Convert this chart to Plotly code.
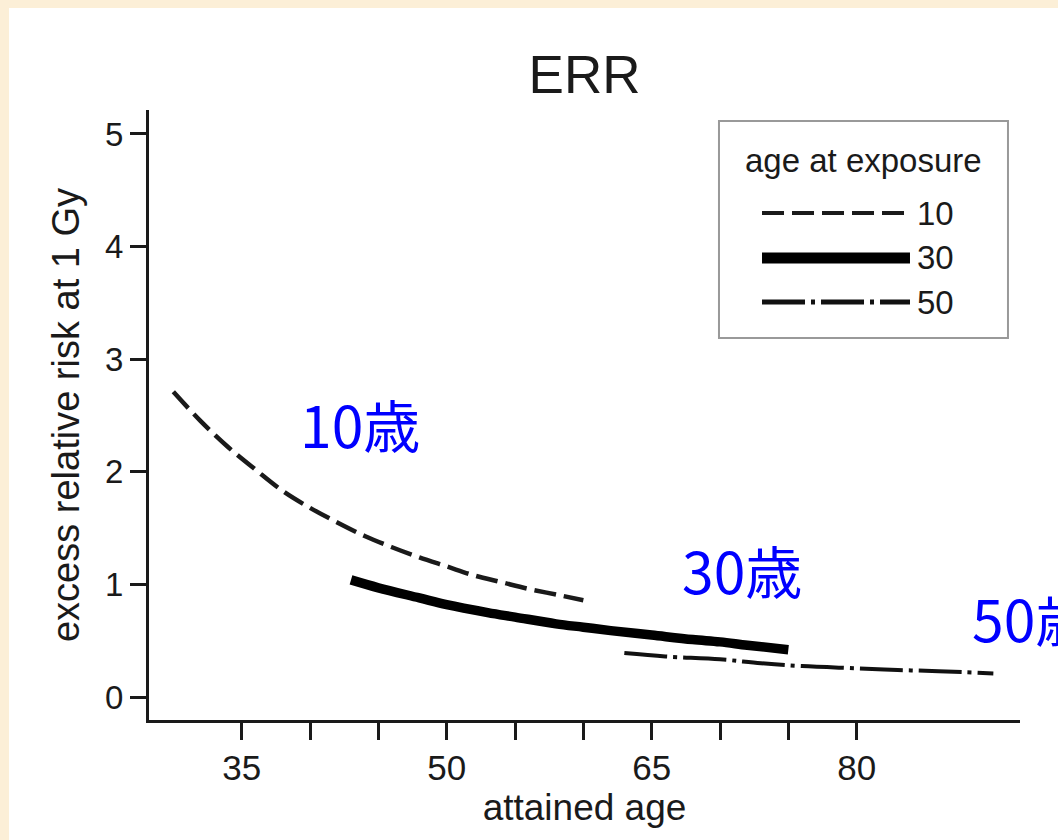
import plotly.graph_objects as go

# ---- data ----
age_10 = [30, 32, 34, 36, 38, 40, 42, 44, 46, 48, 50, 52, 54, 56, 58, 60]
err_10 = [2.71, 2.45, 2.22, 2.02, 1.83, 1.68, 1.55, 1.43, 1.33, 1.24, 1.16, 1.08, 1.02, 0.96, 0.91, 0.86]

age_30 = [43, 45, 48, 50, 53, 55, 58, 60, 62, 65, 68, 70, 72, 75]
err_30 = [1.04, 0.97, 0.88, 0.82, 0.75, 0.71, 0.65, 0.62, 0.59, 0.55, 0.51, 0.49, 0.46, 0.42]

age_50 = [63, 66, 70, 73, 76, 80, 83, 86, 90]
err_50 = [0.39, 0.36, 0.335, 0.30, 0.275, 0.255, 0.24, 0.23, 0.21]

x_tickvals = [35, 40, 45, 50, 55, 60, 65, 70, 75, 80]
x_ticktext = ["35", "", "", "50", "", "", "65", "", "", "80"]
y_tickvals = [0, 1, 2, 3, 4, 5]

series_names = ["10", "30", "50"]
legend_title = "age at exposure"
labels_text = ["10歳", "30歳", "50歳"]
labels_x = [39.1, 67.05, 88.3]
labels_y = [2.43, 1.14, 0.71]

FONT = "Liberation Sans, Arial, sans-serif"
CJK = "Noto Sans CJK JP, sans-serif"
INK = "#1a1a1a"
CREAM = "#FCEFD7"

styles = [
    dict(color=INK, width=4.5, dash="22px,8px"),
    dict(color="#000000", width=9.5, dash="solid"),
    dict(color="#111111", width=4, dash="43px,6px,4px,6px"),
]
legend_styles = [
    dict(color=INK, width=4, dash="22px,8px"),
    dict(color="#000000", width=11, dash="solid"),
    dict(color="#111111", width=5, dash="43px,6px,4px,6px"),
]

fig = go.Figure()
for xs, ys, nm, st in zip([age_10, age_30, age_50], [err_10, err_30, err_50], series_names, styles):
    fig.add_trace(go.Scatter(x=xs, y=ys, mode="lines", name=nm, showlegend=False,
                             line=dict(shape="spline", **st)))

for t, x, y in zip(labels_text, labels_x, labels_y):
    fig.add_annotation(x=x, y=y, xref="x", yref="y", text=t, showarrow=False,
                       xanchor="left", yanchor="middle",
                       font=dict(family=CJK, size=57, color="#0000FF"))

# white panel on cream background
fig.add_shape(type="rect", xref="paper", yref="paper", x0=-0.1607, x1=1.2, y0=-0.4, y1=1.1672,
              fillcolor="white", line=dict(width=0), layer="below")

# legend box (drawn by hand to match the reference proportions)
fig.add_shape(type="rect", xref="paper", yref="paper", x0=0.6544, x1=0.9862, y0=0.6262, y1=0.9820,
              fillcolor="white", line=dict(color="#999999", width=2))
fig.add_annotation(x=0.682, y=0.918, xref="paper", yref="paper", text=legend_title,
                   showarrow=False, xanchor="left", yanchor="middle",
                   font=dict(family=FONT, size=33, color=INK))
leg_y = [0.8311, 0.7574, 0.6852]
for nm, st, yy in zip(series_names, legend_styles, leg_y):
    fig.add_shape(type="line", xref="paper", yref="paper", x0=0.7038, x1=0.8737, y0=yy, y1=yy,
                  line=st)
    fig.add_annotation(x=0.8800, y=yy, xref="paper", yref="paper", text=nm, showarrow=False,
                       xanchor="left", yanchor="middle",
                       font=dict(family=FONT, size=33, color=INK))

fig.update_layout(
    width=1058, height=840,
    margin=dict(l=149, r=38, t=110, b=120),
    paper_bgcolor=CREAM,
    plot_bgcolor="rgba(0,0,0,0)",
    font=dict(family=FONT, color=INK),
    title=dict(text="ERR", x=0.5, xref="paper", xanchor="center",
               y=1 - 74 / 840, yref="container", yanchor="middle",
               font=dict(size=53, family=FONT, color=INK)),
    showlegend=False,
)

fig.update_xaxes(range=[28.22, 91.95], tickvals=x_tickvals, ticktext=x_ticktext,
                 showline=True, linecolor=INK, linewidth=3, mirror=False,
                 ticks="outside", ticklen=17, tickwidth=3, tickcolor=INK,
                 tickfont=dict(size=35, family=FONT), ticklabelstandoff=-2,
                 showgrid=False, zeroline=False,
                 title=dict(text="attained age", font=dict(size=37, family=FONT), standoff=0))
fig.update_yaxes(range=[-0.204, 5.213], tickvals=y_tickvals,
                 showline=True, linecolor=INK, linewidth=3, mirror=False,
                 ticks="outside", ticklen=16, tickwidth=3, tickcolor=INK,
                 tickfont=dict(size=33, family=FONT),
                 showgrid=False, zeroline=False,
                 title=dict(text="excess relative risk at 1 Gy", font=dict(size=38, family=FONT), standoff=14))

fig.write_html("out.html", config={"displayModeBar": False},
               post_script="document.body.style.margin='0';document.body.style.background='%s';" % CREAM)
